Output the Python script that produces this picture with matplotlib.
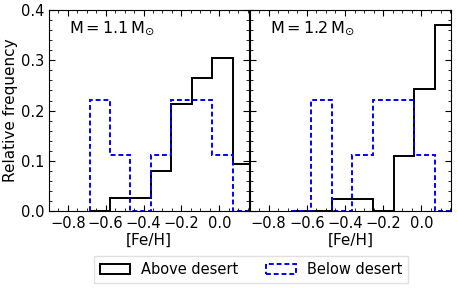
import matplotlib
matplotlib.use("Agg")
import matplotlib.pyplot as plt
from matplotlib.patches import Patch
from matplotlib.ticker import MultipleLocator, AutoMinorLocator

# common bin edges (the last bin runs past the axis edge)
edges = [-0.684, -0.578, -0.470, -0.362, -0.254, -0.146, -0.038, 0.070, 0.178]

above_11 = [0.0, 0.027, 0.027, 0.080, 0.213, 0.264, 0.304, 0.094]
below_11 = [0.222, 0.111, 0.0, 0.111, 0.222, 0.222, 0.111, 0.0]

above_12 = [0.0, 0.0, 0.024, 0.024, 0.0, 0.110, 0.242, 0.370]
below_12 = [0.0, 0.222, 0.0, 0.111, 0.222, 0.222, 0.111, 0.0]

panels = [
    (above_11, below_11, r"$\mathregular{M = 1.1\,M_{\odot}}$"),
    (above_12, below_12, r"$\mathregular{M = 1.2\,M_{\odot}}$"),
]

dash = (0, (2.5, 1.5))

fig = plt.figure(figsize=(4.57, 2.88), dpi=100)
ax1 = fig.add_axes([0.107, 0.267, 0.437, 0.698])
ax2 = fig.add_axes([0.546, 0.267, 0.441, 0.698])

for i, (ax, (above, below, label)) in enumerate(zip([ax1, ax2], panels)):
    ax.stairs(above, edges, color="black", linewidth=1.4)
    ax.stairs(below, edges, color="blue", linewidth=1.4, linestyle=dash)
    ax.set_xlim(-0.9, 0.155)
    ax.set_ylim(0, 0.4)
    ax.xaxis.set_major_locator(MultipleLocator(0.2))
    ax.xaxis.set_minor_locator(AutoMinorLocator(4))
    ax.yaxis.set_major_locator(MultipleLocator(0.1))
    ax.yaxis.set_minor_locator(AutoMinorLocator(5))
    ax.tick_params(which="both", direction="in", top=True, right=True, labelsize=10.5)
    ax.tick_params(which="major", length=4)
    ax.tick_params(which="minor", length=2)
    ax.set_xlabel("[Fe/H]", fontsize=11, labelpad=1)
    ax.text(0.1, 0.91, label, transform=ax.transAxes, fontsize=11.5, va="center")
    if i == 1:
        ax.tick_params(labelleft=False)

ax1.set_ylabel("Relative frequency", fontsize=11, labelpad=2)

handles = [
    Patch(facecolor="none", edgecolor="black", linewidth=1.4, label="Above desert"),
    Patch(facecolor="none", edgecolor="blue", linewidth=1.4, linestyle=dash,
          label="Below desert"),
]
fig.legend(handles=handles, loc="center", bbox_to_anchor=(0.549, 0.064), ncol=2,
           fontsize=10.5, columnspacing=1.9, handlelength=2.05, handletextpad=0.75,
           fancybox=False, edgecolor="0.85")

fig.savefig("out.png", dpi=100)
